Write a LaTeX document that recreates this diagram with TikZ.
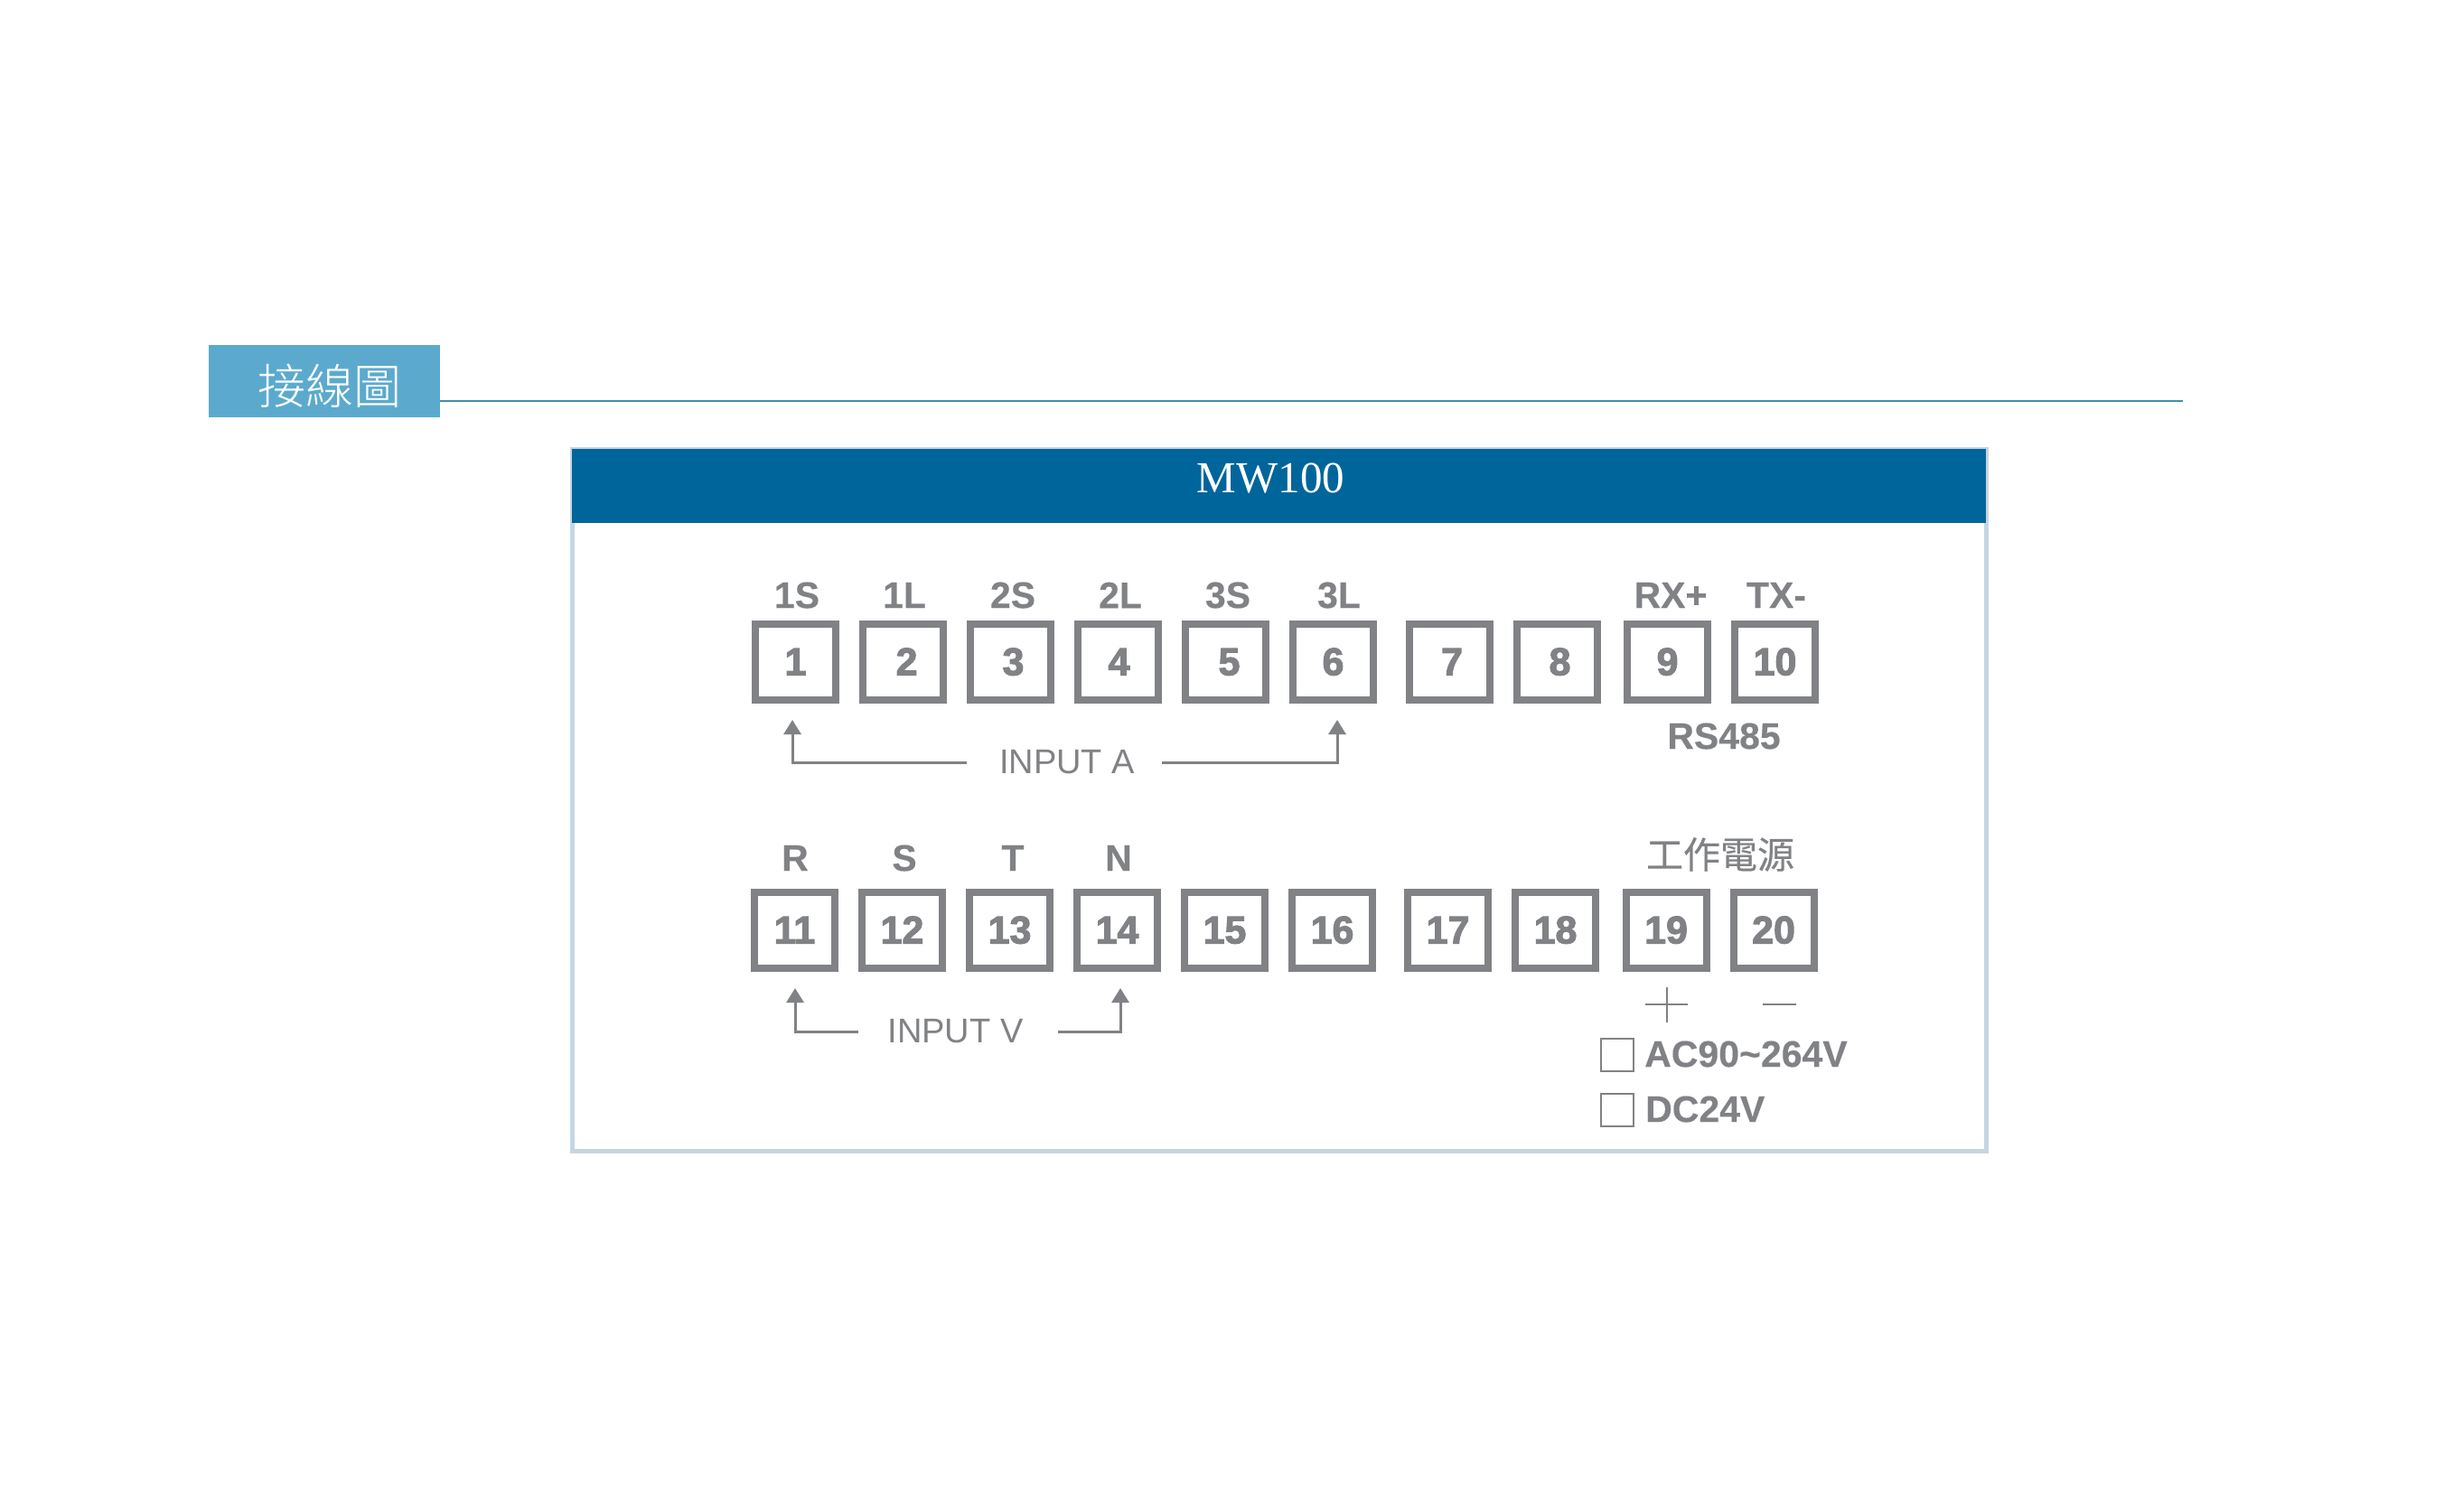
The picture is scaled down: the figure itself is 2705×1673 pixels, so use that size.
\documentclass[tikz,border=0pt]{standalone}
\usepackage{fontspec}
\setmainfont{Liberation Sans}
\newfontfamily\cjk[FakeBold=0.4]{Noto Sans CJK TC}
\newfontfamily\cjklight{Noto Sans CJK TC Light}
\newfontfamily\titlefont{Liberation Serif}
\usetikzlibrary{arrows.meta}
\definecolor{tagblue}{HTML}{5BAACD}
\definecolor{headblue}{HTML}{00659A}
\definecolor{rulecol}{HTML}{3F8FAB}
\definecolor{framecol}{HTML}{C5D6E3}
\definecolor{greycol}{HTML}{808285}

\begin{document}
\begin{tikzpicture}[x=1pt,y=-1pt,>={Triangle[length=16pt,width=19pt]},node distance=119pt,
    term/.style={draw=greycol,line width=8pt,minimum width=89pt,minimum height=84pt,inner sep=0pt,text=greycol,text height=29pt,text depth=0pt,font=\fontsize{43}{43}\selectfont\bfseries\addfontfeature{FakeBold=2.5}},
    pin/.style={text=greycol,inner sep=0pt,font=\fontsize{41}{41}\selectfont\bfseries\addfontfeature{FakeBold=0.3}},
    inp/.style={text=greycol,inner sep=0pt,font=\fontsize{38}{38}\selectfont},
    chk/.style={draw=greycol,line width=2pt,minimum width=36pt,minimum height=36pt,inner sep=0pt},
    wire/.style={draw=greycol,line width=3pt,->,shorten >=18pt}]

\useasboundingbox (0,0) rectangle (2705,1673);

\node[fill=tagblue,minimum width=256pt,minimum height=80pt,inner sep=0pt] (tag) at (359,422) {};
\node[text=white,inner sep=0pt,font=\fontsize{53}{53}\selectfont\cjklight] (tagtext) at (364.5,427) {接線圖};
\coordinate (ruleend) at (2416,444);
\draw[rulecol,line width=2pt] (tag.east |- ruleend) -- (ruleend);

\node[draw=framecol,line width=5pt,minimum width=1565pt,minimum height=777pt,inner sep=0pt] (panel) at (1415.5,885.5) {};
\node[fill=headblue,minimum width=1565pt,minimum height=82pt,inner sep=0pt] (head) at (1415.5,538) {};
\node[text=white,inner sep=0pt,font=\fontsize{49}{49}\selectfont\titlefont] (title) at (1406.5,530) {MW100};

\node[term] (T1) at (880.5,733) {1};
\node[term] (T2) [right of=T1] {\hspace{8pt}2};
\node[term] (T3) [right of=T2] {\hspace{6pt}3};
\node[term] (T4) [right of=T3] {\hspace{2pt}4};
\node[term] (T5) [right of=T4] {\hspace{8pt}5};
\node[term] (T6) [right of=T5] {6};
\node[term] (T7) [right of=T6,xshift=10pt] {\hspace{5pt}7};
\node[term] (T8) [right of=T7] {\hspace{6pt}8};
\node[term] (T9) [right of=T8,xshift=3pt] {9};
\node[term] (T10) [right of=T9] {10};

\node[term] (T11) at (879.5,1030) {11};
\node[term] (T12) [right of=T11] {12};
\node[term] (T13) [right of=T12] {13};
\node[term] (T14) [right of=T13] {14};
\node[term] (T15) [right of=T14] {15};
\node[term] (T16) [right of=T15] {16};
\node[term] (T17) [right of=T16,xshift=9pt] {17};
\node[term] (T18) [right of=T17] {18};
\node[term] (T19) [right of=T18,xshift=3.5pt] {19};
\node[term] (T20) [right of=T19] {20};

\node[pin] (p1) at (882,659) {1S};
\node[pin] (p2) at (1001,659) {1L};
\node[pin] (p3) at (1121,659) {2S};
\node[pin] (p4) at (1240,659) {2L};
\node[pin] (p5) at (1359,659) {3S};
\node[pin] (p6) at (1482,659) {3L};
\node[pin] (p9) at (1849,659) {RX+};
\node[pin] (p10) at (1966,659) {TX-};
\node[pin] (rs) at (1908,815) {RS485};

\node[pin] (p11) at (880,950) {R};
\node[pin] (p12) at (1001,950) {S};
\node[pin] (p13) at (1121,950) {T};
\node[pin] (p14) at (1238,950) {N};
\node[text=greycol,inner sep=0pt,font=\fontsize{41}{41}\selectfont\cjk] (power) at (1904,946) {工作電源};

\node[inp,minimum width=216pt] (inA) at (1178,844) {\hspace{6pt}INPUT A};
\node[inp,minimum width=221pt] (inV) at (1060.5,1142) {\hspace{-6pt}INPUT V};

\path[wire] (inA.west) -| ([xshift=-3.5pt]T1.south);
\path[wire] (inA.east) -| ([xshift=4.5pt]T6.south);
\path[wire] (inV.west) -| ([xshift=0.5pt]T11.south);
\path[wire] (inV.east) -| ([xshift=3.5pt]T14.south);

% plus and minus under 19, 20
\draw[greycol,line width=2pt] (1821,1112) -- (1868,1112) (1845,1093) -- (1845,1132);
\draw[greycol,line width=2pt] (1950.5,1112) -- (1988,1112);

\node[chk] (chkA) at (1789.5,1167.5) {};
\node[chk] (chkD) at (1789.5,1228.5) {};
\node[pin,anchor=west] (ac) at (1820,1167) {AC90\char`~264V};
\node[pin,anchor=west] (dc) at (1821,1228) {DC24V};

\end{tikzpicture}
\end{document}
